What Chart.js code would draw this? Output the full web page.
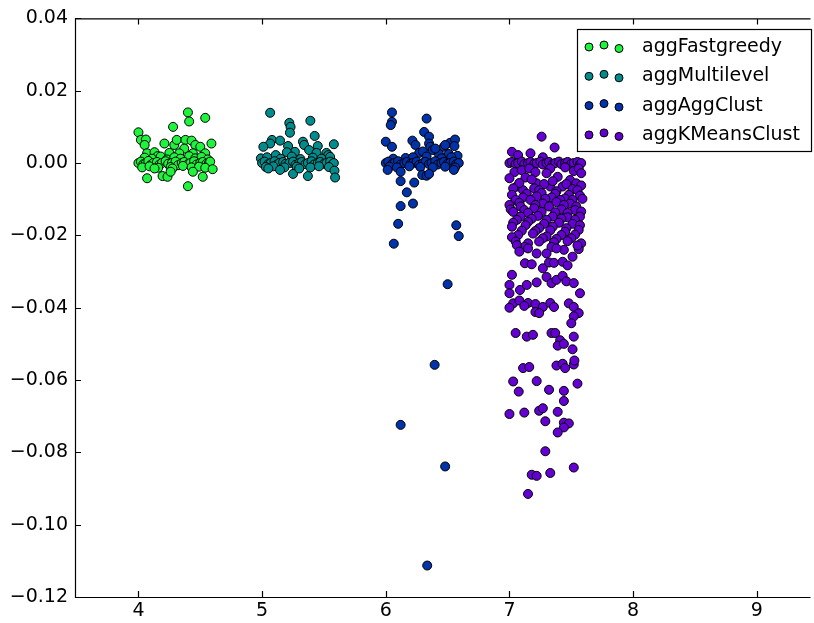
<!DOCTYPE html>
<html lang="en">
<head>
    <meta charset="UTF-8">
    <title>agg scatter</title>
    <script src="https://cdn.jsdelivr.net/npm/chart.js"></script>
    <style>
        body {
            margin: 0;
            background: #fff;
            overflow: hidden;
        }
        #wrap {
            position: relative;
            width: 814px;
            height: 623px;
        }
    </style>
</head>
<body>
    <div id="wrap">
        <canvas id="aggChart" width="814" height="623"></canvas>
    </div>

    <script>
        // tick labels
        const xTicks = [4, 5, 6, 7, 8, 9];
        const yTicks = [-0.12, -0.10, -0.08, -0.06, -0.04, -0.02, 0.00, 0.02, 0.04];

        const seriesNames = ['aggFastgreedy', 'aggMultilevel', 'aggAggClust', 'aggKMeansClust'];
        const seriesColors = ['#1ef43c', '#008c8c', '#0032aa', '#6400d2'];

        // [x, y]
        const fastgreedyPts = [
            [4.40, 0.0140], [4.54, 0.0125], [4.41, 0.0115], [4.28, 0.0100], [4.00, 0.0085],
            [4.02, 0.0064], [4.06, 0.0065], [4.05, 0.0050], [4.21, 0.0054], [4.29, 0.0050],
            [4.31, 0.0064], [4.38, 0.0064], [4.43, 0.0062], [4.46, 0.0050], [4.50, 0.0045],
            [4.59, 0.0054], [4.37, 0.0040], [4.07, 0.0027], [4.13, 0.0030], [4.25, 0.0028],
            [4.33, 0.0027], [4.44, 0.0027], [4.54, 0.0027], [4.155, 0.0019],
            [4.05, 0.0015], [4.11, 0.0012], [4.18, 0.0018], [4.23, 0.0010], [4.29, 0.0016],
            [4.34, 0.0012], [4.41, 0.0019], [4.46, 0.0013], [4.51, 0.0017], [4.56, 0.0010],
            [4.00, 0.0000], [4.02, 0.0004], [4.04, -0.0003], [4.06, 0.0000], [4.08, 0.0006],
            [4.10, -0.0005], [4.12, 0.0000], [4.15, 0.0003], [4.17, -0.0004], [4.19, 0.0000],
            [4.22, 0.0005], [4.24, -0.0002], [4.27, 0.0000], [4.30, 0.0004], [4.32, -0.0006],
            [4.35, 0.0000], [4.37, 0.0003], [4.40, -0.0003], [4.42, 0.0000], [4.45, 0.0005],
            [4.47, -0.0004], [4.50, 0.0000], [4.52, 0.0003], [4.55, -0.0002], [4.57, 0.0000],
            [4.58, 0.0004],
            [4.03, -0.0012], [4.09, -0.0009], [4.16, -0.0013], [4.26, -0.0011], [4.36, -0.0008],
            [4.43, -0.0012], [4.49, -0.0010], [4.54, -0.0013],
            [4.13, -0.0015], [4.275, -0.0015], [4.44, -0.0024], [4.60, -0.0017], [4.07, -0.0042],
            [4.195, -0.0036], [4.235, -0.0038], [4.52, -0.0038], [4.40, -0.0064], [4.26, -0.0024]
        ];

        const multilevelPts = [
            [5.065, 0.0139], [5.39, 0.0117], [5.22, 0.0111], [5.23, 0.0100], [5.225, 0.0084],
            [5.425, 0.0075], [5.08, 0.0064], [5.065, 0.0054], [5.145, 0.0062], [5.33, 0.0059],
            [5.58, 0.0052], [5.01, 0.0045], [5.21, 0.0047], [5.34, 0.0050], [5.45, 0.0047],
            [5.265, 0.0031], [5.38, 0.0036], [5.44, 0.0028], [5.52, 0.0028], [5.535, 0.0022],
            [5.20, 0.0030], [5.11, 0.0022], [4.99, 0.0013],
            [5.04, 0.0016], [5.15, 0.0012], [5.24, 0.0018], [5.31, 0.0011], [5.41, 0.0015],
            [5.48, 0.0012], [5.55, 0.0017],
            [5.00, 0.0000], [5.02, 0.0004], [5.05, -0.0003], [5.07, 0.0000], [5.10, 0.0005],
            [5.12, -0.0004], [5.14, 0.0000], [5.17, 0.0003], [5.19, -0.0002], [5.22, 0.0000],
            [5.25, 0.0004], [5.27, -0.0005], [5.30, 0.0000], [5.32, 0.0003], [5.35, -0.0003],
            [5.37, 0.0000], [5.40, 0.0005], [5.42, -0.0004], [5.45, 0.0000], [5.47, 0.0003],
            [5.50, -0.0002], [5.52, 0.0000], [5.55, 0.0004], [5.57, -0.0003], [5.58, 0.0000],
            [5.03, -0.0011], [5.09, -0.0009], [5.18, -0.0012], [5.28, -0.0010], [5.39, -0.0012],
            [5.46, -0.0009], [5.54, -0.0011],
            [5.145, -0.0019], [5.25, -0.0030], [5.37, -0.0036], [5.585, -0.0021], [5.59, -0.0040],
            [5.05, -0.0015], [5.30, -0.0015]
        ];

        const aggClustPts = [
            [6.05, 0.0140], [6.33, 0.0123], [6.05, 0.0114], [6.04, 0.0105], [6.31, 0.0086],
            [6.35, 0.0073], [6.00, 0.0059], [6.05, 0.0045], [6.215, 0.0062], [6.24, 0.0050],
            [6.35, 0.0054], [6.36, 0.0045], [6.47, 0.0045], [6.52, 0.0056], [6.56, 0.0065],
            [6.555, 0.0047], [6.48, 0.0050], [6.27, 0.0028], [6.38, 0.0036], [6.43, 0.0025],
            [6.51, 0.0025], [6.58, 0.0020], [6.16, 0.0014], [6.30, 0.0032], [6.40, 0.0040],
            [6.06, 0.0012], [6.22, 0.0016], [6.33, 0.0018], [6.45, 0.0013], [6.53, 0.0016],
            [6.00, 0.0000], [6.02, 0.0004], [6.05, -0.0003], [6.07, 0.0000], [6.10, 0.0005],
            [6.12, -0.0004], [6.15, 0.0000], [6.17, 0.0003], [6.20, -0.0002], [6.22, 0.0000],
            [6.25, 0.0004], [6.27, -0.0005], [6.30, 0.0000], [6.32, 0.0003], [6.35, -0.0003],
            [6.37, 0.0000], [6.40, 0.0005], [6.42, -0.0004], [6.45, 0.0000], [6.47, 0.0003],
            [6.50, -0.0002], [6.52, 0.0000], [6.55, 0.0004], [6.57, -0.0003], [6.59, 0.0000],
            [6.03, -0.0010], [6.09, -0.0012], [6.19, -0.0009], [6.28, -0.0011], [6.38, -0.0012],
            [6.48, -0.0010], [6.56, -0.0012],
            [6.015, -0.0019], [6.12, -0.0024], [6.295, -0.0033], [6.55, -0.0019], [6.33, -0.0035],
            [6.35, -0.0030], [6.12, -0.0050], [6.23, -0.0054], [6.17, -0.0081], [6.12, -0.0119],
            [6.22, -0.0112], [6.10, -0.0168], [6.065, -0.0223], [6.57, -0.0172], [6.59, -0.0202],
            [6.50, -0.0335], [6.395, -0.0558], [6.12, -0.0724], [6.48, -0.0839], [6.335, -0.1113]
        ];

        const kmeansPts = [
            [7.26, 0.0073], [7.365, 0.0043], [7.02, 0.0031], [7.07, 0.0022], [7.17, 0.0027],
            [7.27, 0.0016],
            [7.00, 0.0000], [7.02, 0.0003], [7.05, -0.0002], [7.07, 0.0000], [7.10, 0.0004],
            [7.12, -0.0003], [7.15, 0.0000], [7.17, 0.0003], [7.20, -0.0002], [7.22, 0.0000],
            [7.25, 0.0004], [7.27, -0.0004], [7.30, 0.0000], [7.32, 0.0003], [7.35, -0.0003],
            [7.37, 0.0000], [7.40, 0.0004], [7.42, -0.0003], [7.45, 0.0000], [7.47, 0.0003],
            [7.50, -0.0002], [7.52, 0.0000], [7.55, 0.0003], [7.57, -0.0003], [7.58, 0.0000],
            [7.04, -0.0025], [7.10, -0.0020], [7.16, -0.0015], [7.21, -0.0025], [7.33, -0.0015],
            [7.45, -0.0012], [7.52, -0.0022], [7.56, -0.0015],
            [7.00, -0.0042], [7.13, -0.0040], [7.30, -0.0028], [7.39, -0.0038], [7.49, -0.0047],
            [7.58, -0.0028], [7.22, -0.0056], [7.06, -0.0065], [7.11, -0.0075], [7.20, -0.0070],
            [7.33, -0.0065], [7.43, -0.0065], [7.54, -0.0056],
            [7.08, -0.0055], [7.18, -0.0045], [7.28, -0.0058], [7.35, -0.0050], [7.46, -0.0058],
            [7.58, -0.0062], [7.03, -0.0070], [7.24, -0.0075], [7.38, -0.0078], [7.51, -0.0072],
            [7.02, -0.0088], [7.14, -0.0085], [7.26, -0.0083], [7.37, -0.0085], [7.48, -0.0088],
            [7.55, -0.0075], [7.11, -0.0095], [7.22, -0.0092], [7.34, -0.0095], [7.45, -0.0098],
            [7.57, -0.0090],
            [7.05, -0.0102], [7.17, -0.0102], [7.29, -0.0099], [7.41, -0.0102], [7.51, -0.0102],
            [7.59, -0.0099], [7.08, -0.0110], [7.27, -0.0112], [7.38, -0.0108], [7.49, -0.0112],
            [7.00, -0.0116], [7.09, -0.0120], [7.21, -0.0116], [7.32, -0.0120], [7.44, -0.0116],
            [7.54, -0.0120], [7.01, -0.0128], [7.12, -0.0130], [7.20, -0.0125], [7.42, -0.0128],
            [7.53, -0.0130],
            [7.03, -0.0135], [7.15, -0.0138], [7.26, -0.0135], [7.37, -0.0136], [7.47, -0.0138],
            [7.58, -0.0134], [7.09, -0.0148], [7.23, -0.0146], [7.35, -0.0148], [7.47, -0.0150],
            [7.57, -0.0148], [7.06, -0.0157], [7.18, -0.0154], [7.30, -0.0157], [7.42, -0.0154],
            [7.53, -0.0157], [7.03, -0.0165], [7.15, -0.0163], [7.28, -0.0168], [7.40, -0.0165],
            [7.51, -0.0168],
            [7.02, -0.0176], [7.13, -0.0172], [7.24, -0.0180], [7.35, -0.0176], [7.46, -0.0180],
            [7.57, -0.0172], [7.10, -0.0187], [7.21, -0.0188], [7.33, -0.0186], [7.45, -0.0190],
            [7.56, -0.0185], [7.07, -0.0199], [7.19, -0.0195], [7.30, -0.0203], [7.42, -0.0199],
            [7.53, -0.0198], [7.02, -0.0205], [7.27, -0.0208], [7.38, -0.0210], [7.50, -0.0208],
            [7.05, -0.0217], [7.15, -0.0222], [7.24, -0.0217], [7.36, -0.0219], [7.47, -0.0216],
            [7.58, -0.0222], [7.12, -0.0232], [7.34, -0.0232], [7.44, -0.0240], [7.56, -0.0238],
            [7.06, -0.0227], [7.08, -0.0245], [7.15, -0.0236], [7.22, -0.0250], [7.30, -0.0250],
            [7.38, -0.0236], [7.51, -0.0259], [7.55, -0.0228],
            [7.125, -0.0277], [7.18, -0.0280], [7.27, -0.0291], [7.32, -0.0275], [7.36, -0.0276],
            [7.43, -0.0273], [7.47, -0.0283], [7.02, -0.0309], [7.00, -0.0337], [7.085, -0.0351],
            [7.14, -0.0337], [7.22, -0.0330], [7.30, -0.0315], [7.34, -0.0332], [7.38, -0.0323],
            [7.43, -0.0312], [7.46, -0.0327], [7.52, -0.0332], [7.57, -0.0360], [7.00, -0.0360],
            [7.03, -0.0388], [7.08, -0.0380], [7.15, -0.0387], [7.21, -0.0390], [7.27, -0.0398],
            [7.33, -0.0387], [7.36, -0.0398], [7.48, -0.0388], [7.52, -0.0398], [7.00, -0.0400],
            [7.12, -0.0395], [7.21, -0.0412], [7.24, -0.0415], [7.56, -0.0415], [7.52, -0.0424],
            [7.50, -0.0443],
            [7.05, -0.0470], [7.14, -0.0480], [7.19, -0.0475], [7.34, -0.0470], [7.37, -0.0470],
            [7.41, -0.0490], [7.52, -0.0480], [7.39, -0.0505], [7.51, -0.0515], [7.44, -0.0500],
            [7.11, -0.0567], [7.16, -0.0564], [7.38, -0.0560], [7.43, -0.0555], [7.45, -0.0567],
            [7.52, -0.0557], [7.525, -0.0546], [7.03, -0.0604], [7.22, -0.0603], [7.55, -0.0610],
            [7.075, -0.0632], [7.32, -0.0627], [7.44, -0.0630], [7.44, -0.0658], [7.00, -0.0694],
            [7.12, -0.0690], [7.24, -0.0685], [7.27, -0.0678], [7.39, -0.0688], [7.29, -0.0714],
            [7.44, -0.0718], [7.48, -0.0720], [7.44, -0.0731], [7.39, -0.0745], [7.29, -0.0797],
            [7.52, -0.0842], [7.18, -0.0862], [7.22, -0.0865], [7.33, -0.0857], [7.15, -0.0915]
        ];

        const allPts = [fastgreedyPts, multilevelPts, aggClustPts, kmeansPts];

        const fontFamily = '"DejaVu Sans", sans-serif';
        const minusSign = s => s.replace('-', '\u2212');

        // spines with inward ticks, matplotlib classic look
        const framePlugin = {
            id: 'frame',
            afterDatasetsDraw(chart) {
                const ctx = chart.ctx;
                const a = chart.chartArea;
                const xs = chart.scales.x, ys = chart.scales.y;
                ctx.save();
                ctx.strokeStyle = '#000';
                ctx.lineWidth = 1.2;
                ctx.beginPath();
                ctx.moveTo(a.right + 2, a.top + 0.5);
                ctx.lineTo(a.left + 0.5, a.top + 0.5);
                ctx.lineTo(a.left + 0.5, a.bottom + 0.5);
                ctx.lineTo(a.right + 2, a.bottom + 0.5);
                xTicks.forEach(v => {
                    const px = Math.round(xs.getPixelForValue(v)) + 0.5;
                    ctx.moveTo(px, a.bottom);
                    ctx.lineTo(px, a.bottom - 6);
                    ctx.moveTo(px, a.top);
                    ctx.lineTo(px, a.top + 6);
                });
                yTicks.forEach(v => {
                    const py = Math.round(ys.getPixelForValue(v)) + 0.5;
                    ctx.moveTo(a.left, py);
                    ctx.lineTo(a.left + 6, py);
                });
                ctx.stroke();
                ctx.restore();
            }
        };

        // legend box with three scatter points per entry
        const legendPlugin = {
            id: 'scatterLegend',
            afterDraw(chart) {
                const ctx = chart.ctx;
                const left = 577, top = 29, right = 811, bottom = 151;
                ctx.save();
                ctx.fillStyle = '#fff';
                ctx.fillRect(left, top, right - left, bottom - top);
                ctx.strokeStyle = '#000';
                ctx.lineWidth = 1.2;
                ctx.strokeRect(left + 0.5, top + 0.5, right - left, bottom - top);
                const offs = [[589, 0], [604, -2], [619, 1.5]];
                seriesNames.forEach((name, i) => {
                    const cy = 47 + i * 29.3;
                    offs.forEach(([mx, dy]) => {
                        ctx.beginPath();
                        ctx.arc(mx, cy + dy, 4, 0, Math.PI * 2);
                        ctx.fillStyle = seriesColors[i];
                        ctx.fill();
                        ctx.lineWidth = 1;
                        ctx.strokeStyle = '#000';
                        ctx.stroke();
                    });
                    ctx.fillStyle = '#000';
                    ctx.font = '19px ' + fontFamily;
                    ctx.textBaseline = 'middle';
                    ctx.fillText(name, 642, cy);
                });
                ctx.restore();
            }
        };

        const datasets = allPts.map((pts, i) => ({
            label: seriesNames[i],
            data: pts.map(p => ({ x: p[0], y: p[1] })),
            backgroundColor: seriesColors[i],
            borderColor: '#000',
            borderWidth: 1,
            pointRadius: 4.5
        }));

        new Chart(document.getElementById('aggChart').getContext('2d'), {
            type: 'scatter',
            data: { datasets: datasets },
            options: {
                responsive: false,
                animation: false,
                layout: { padding: { top: 18, left: 0, right: 0, bottom: 0 } },
                plugins: {
                    legend: { display: false },
                    tooltip: { enabled: false }
                },
                scales: {
                    x: {
                        type: 'linear',
                        min: 3.487,
                        max: 9.418,
                        grid: { display: false, drawTicks: false },
                        border: { display: false },
                        afterBuildTicks: s => { s.ticks = xTicks.map(v => ({ value: v })); },
                        afterFit: s => { s.height = 26; },
                        ticks: {
                            color: '#000',
                            padding: 3,
                            maxRotation: 0,
                            font: { family: fontFamily, size: 19 },
                            callback: v => String(v)
                        }
                    },
                    y: {
                        min: -0.12,
                        max: 0.04,
                        grid: { display: false, drawTicks: false },
                        border: { display: false },
                        afterBuildTicks: s => { s.ticks = yTicks.map(v => ({ value: v })); },
                        afterFit: s => { s.width = 75; },
                        ticks: {
                            color: '#000',
                            padding: 7,
                            font: { family: fontFamily, size: 19 },
                            callback: v => minusSign(Math.abs(v) < 1e-9 ? '0.00' : v.toFixed(2))
                        }
                    }
                }
            },
            plugins: [framePlugin, legendPlugin]
        });
    </script>
</body>
</html>
